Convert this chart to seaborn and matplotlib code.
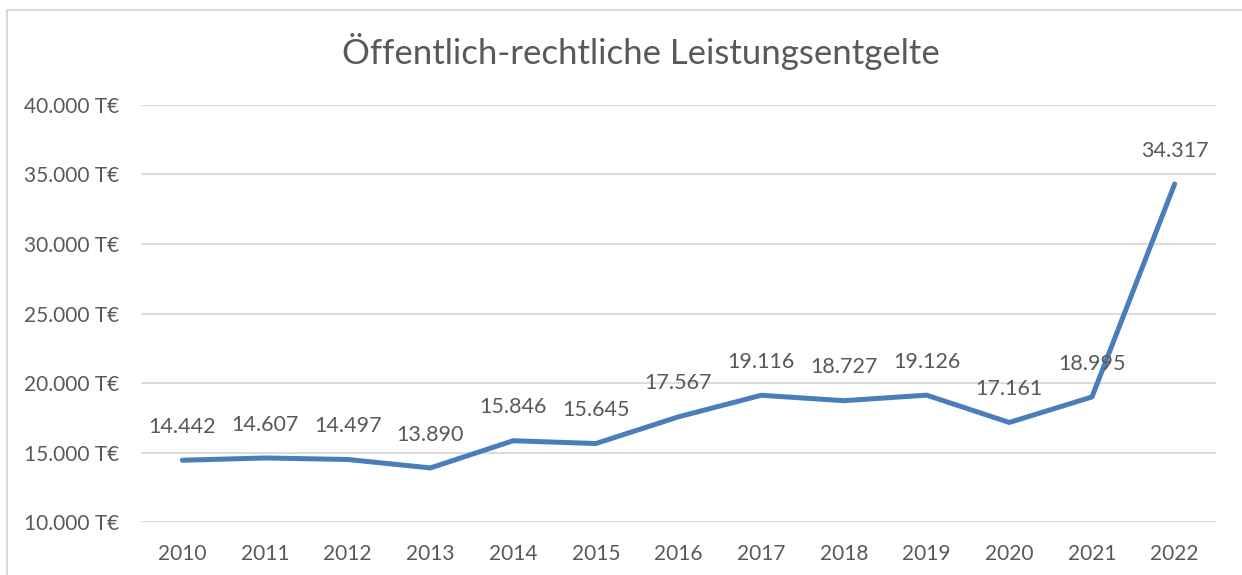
import matplotlib
matplotlib.use("Agg")
import pandas as pd
import seaborn as sns
import matplotlib.pyplot as plt
from matplotlib.patches import Rectangle
from matplotlib.ticker import FuncFormatter

years = ['2010', '2011', '2012', '2013', '2014', '2015', '2016',
         '2017', '2018', '2019', '2020', '2021', '2022']
entgelte = [14442, 14607, 14497, 13890, 15846, 15645, 17567,
            19116, 18727, 19126, 17161, 18995, 34317]
y_ticks = [10000, 15000, 20000, 25000, 30000, 35000, 40000]

df = pd.DataFrame({'Jahr': years, 'Wert': entgelte})


def de_num(v):
    return f"{v:,.0f}".replace(",", ".")


sns.set_theme(style='white')
plt.rcParams['font.family'] = ['Lato', 'DejaVu Sans']
text_col = '#595959'

fig = plt.figure(figsize=(12.42, 5.75), dpi=100)
ax = fig.add_axes([141 / 1242, 1 - 522 / 575, 1075 / 1242, 417 / 575])

sns.lineplot(data=df, x='Jahr', y='Wert', ax=ax, color='#4A7EBB',
             linewidth=3.6, solid_capstyle='round', solid_joinstyle='round')

for i, v in enumerate(entgelte):
    ax.annotate(de_num(v), (i, v), xytext=(0, 24), textcoords='offset points',
                ha='center', va='center', fontsize=15.5, color=text_col)

ax.set_xlim(-0.5, len(years) - 0.5)
ax.set_ylim(10000, 40000)
ax.set_yticks(y_ticks)
ax.yaxis.set_major_formatter(FuncFormatter(lambda v, p: de_num(v) + ' T€'))
ax.grid(axis='y', color='#D9D9D9', linewidth=1.3)
ax.grid(axis='x', visible=False)
for s in ax.spines.values():
    s.set_visible(False)
ax.tick_params(axis='both', length=0, labelsize=15, labelcolor=text_col)
ax.tick_params(axis='y', pad=16)
ax.tick_params(axis='x', pad=16)
ax.set_xlabel('')
ax.set_ylabel('')

fig.text(641 / 1242, 1 - 52 / 575, 'Öffentlich-rechtliche Leistungsentgelte',
         ha='center', va='center', fontsize=25, color=text_col)

fig.patches.append(Rectangle((7 / 1242, -0.1), 1.2, 1 - 10 / 575 + 0.1,
                             transform=fig.transFigure, fill=False,
                             edgecolor='#D9D9D9', linewidth=1.5))

fig.savefig('out.png', dpi=100)
